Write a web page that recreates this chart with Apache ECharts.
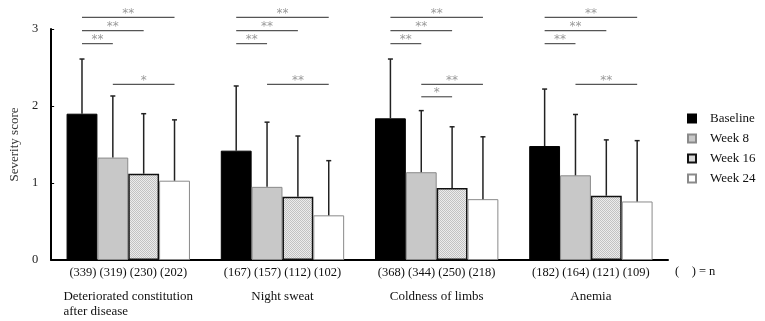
<!DOCTYPE html>
<html>
<head>
<meta charset="utf-8">
<script src="https://cdn.jsdelivr.net/npm/echarts@6/dist/echarts.min.js"></script>
<style>
  html, body { margin: 0; padding: 0; background: #ffffff; }
  #chart { width: 765px; height: 321px; }
</style>
</head>
<body>
<div id="chart"></div>
<script>
// categories and tick labels
const categories = ['Deteriorated constitution\nafter disease', 'Night sweat', 'Coldness of limbs', 'Anemia'];
const seriesNames = ['Baseline', 'Week 8', 'Week 16', 'Week 24'];
const yTicks = [0, 1, 2, 3];

// mean severity score
const baselineMean = [1.90, 1.42, 1.84, 1.48];
const week8Mean = [1.33, 0.95, 1.14, 1.10];
const week16Mean = [1.12, 0.82, 0.935, 0.835];
const week24Mean = [1.03, 0.58, 0.79, 0.76];

// top of error bar (mean + SD)
const baselineTop = [2.61, 2.26, 2.61, 2.22];
const week8Top = [2.13, 1.79, 1.94, 1.89];
const week16Top = [1.90, 1.61, 1.73, 1.56];
const week24Top = [1.82, 1.29, 1.60, 1.55];

// n per group
const baselineN = [339, 167, 368, 182];
const week8N = [319, 157, 344, 164];
const week16N = [230, 112, 250, 121];
const week24N = [202, 102, 218, 109];

// significance brackets: [category, from series, to series, level, label]
const brackets = [
  [0, 0, 3, 3.15, '**'], [0, 0, 2, 2.98, '**'], [0, 0, 1, 2.81, '**'], [0, 1, 3, 2.28, '*'],
  [1, 0, 3, 3.15, '**'], [1, 0, 2, 2.98, '**'], [1, 0, 1, 2.81, '**'], [1, 1, 3, 2.28, '**'],
  [2, 0, 3, 3.15, '**'], [2, 0, 2, 2.98, '**'], [2, 0, 1, 2.81, '**'], [2, 1, 3, 2.28, '**'], [2, 1, 2, 2.12, '*'],
  [3, 0, 3, 3.15, '**'], [3, 0, 2, 2.98, '**'], [3, 0, 1, 2.81, '**'], [3, 1, 3, 2.28, '**']
];

const means = [baselineMean, week8Mean, week16Mean, week24Mean];
const tops = [baselineTop, week8Top, week16Top, week24Top];
const counts = [baselineN, week8N, week16N, week24N];

const FONT = '"Liberation Serif", "Times New Roman", serif';
const BAR_GAP_RATIO = 0.2;

// stippled fill for week 16
const makeStipple = () => {
  const c = document.createElement('canvas');
  c.width = 2; c.height = 2;
  const ctx = c.getContext('2d');
  ctx.fillStyle = '#ececec';
  ctx.fillRect(0, 0, 2, 2);
  ctx.fillStyle = '#c2c2c2';
  ctx.fillRect(0, 0, 1, 1);
  ctx.fillRect(1, 1, 1, 1);
  return c;
};
const stipple = { image: makeStipple(), repeat: 'repeat' };

const barStyles = [
  { color: '#000000', borderColor: '#000000', borderWidth: 1 },
  { color: '#c8c8c8', borderColor: '#8a8a8a', borderWidth: 1 },
  { color: stipple, borderColor: '#111111', borderWidth: 1.5 },
  { color: '#ffffff', borderColor: '#8a8a8a', borderWidth: 1 }
];

// x centre of bar s in category cat, from the axis scale
const barCenter = (api, cat, s) => {
  const c = api.coord([cat, 0]);
  const band = api.size([1, 0])[0];
  const inner = band * (1 - BAR_GAP_RATIO);
  const w = inner / 4;
  return c[0] - inner / 2 + w * (s + 0.5);
};

const errorData = [];
means.forEach((arr, s) => arr.forEach((m, i) => errorData.push([i, s, m, tops[s][i]])));

const chart = echarts.init(document.getElementById('chart'), null, { renderer: 'canvas' });

const option = {
  animation: false,
  textStyle: { fontFamily: FONT },
  grid: { left: 48, right: 97, top: 29, bottom: 61 },
  legend: {
    data: seriesNames,
    orient: 'vertical',
    icon: 'rect',
    left: 682,
    top: 107,
    itemWidth: 8,
    itemHeight: 8,
    itemGap: 7,
    textStyle: { fontFamily: FONT, fontSize: 13, color: '#111', padding: [0, 0, 0, 9] }
  },
  xAxis: {
    type: 'category',
    data: categories,
    axisTick: { show: false },
    axisLine: { lineStyle: { color: '#000', width: 2 } },
    axisLabel: {
      interval: 0,
      margin: 5,
      formatter: (value, idx) => {
        const nRow = counts.map(a => '(' + a[idx] + ')').join(' ');
        const lines = value.split('\n');
        const st = lines.length > 1 ? 'cl' : 'c';
        return '{n|' + nRow + '}\n{s| }\n' + lines.map(l => '{' + st + '|' + l + '}').join('\n');
      },
      rich: {
        n: { fontFamily: FONT, fontSize: 12.5, color: '#111', lineHeight: 16 },
        s: { fontSize: 4, lineHeight: 8 },
        c: { fontFamily: FONT, fontSize: 13, color: '#111', lineHeight: 15, align: 'center' },
        cl: { fontFamily: FONT, fontSize: 13, color: '#111', lineHeight: 15, align: 'left' }
      }
    }
  },
  yAxis: {
    type: 'value',
    min: yTicks[0],
    max: yTicks[yTicks.length - 1],
    interval: 1,
    name: 'Severity score',
    nameLocation: 'middle',
    nameGap: 28,
    nameTextStyle: { fontFamily: FONT, fontSize: 13, color: '#333' },
    axisLine: { show: true, lineStyle: { color: '#000', width: 2 } },
    axisTick: { show: true, inside: true, length: 3, lineStyle: { color: '#000' } },
    axisLabel: { fontFamily: FONT, fontSize: 12.5, color: '#222', margin: 13 },
    splitLine: { show: false }
  },
  series: [
    ...seriesNames.map((name, s) => ({
      name: name,
      type: 'bar',
      data: means[s],
      barGap: '0%',
      barCategoryGap: (BAR_GAP_RATIO * 100) + '%',
      itemStyle: barStyles[s],
      emphasis: { disabled: true },
      z: 2
    })),
    {
      type: 'custom',
      name: 'sd',
      data: errorData,
      encode: { x: 0, y: [2, 3] },
      z: 3,
      silent: true,
      renderItem: (params, api) => {
        const cat = api.value(0), s = api.value(1);
        const x = barCenter(api, cat, s);
        const y0 = api.coord([cat, api.value(2)])[1];
        const y1 = api.coord([cat, api.value(3)])[1];
        const st = { stroke: '#222', lineWidth: 1.5 };
        return {
          type: 'group',
          children: [
            { type: 'line', shape: { x1: x, y1: y0, x2: x, y2: y1 }, style: st },
            { type: 'line', shape: { x1: x - 2.5, y1: y1, x2: x + 2.5, y2: y1 }, style: st }
          ]
        };
      }
    },
    {
      type: 'custom',
      name: 'sig',
      data: brackets,
      encode: { x: 0, y: 3 },
      clip: false,
      z: 3,
      silent: true,
      renderItem: (params, api) => {
        const cat = api.value(0);
        const xa = barCenter(api, cat, api.value(1));
        const xb = barCenter(api, cat, api.value(2));
        const y = api.coord([cat, api.value(3)])[1];
        const label = brackets[params.dataIndex][4];
        return {
          type: 'group',
          children: [
            { type: 'line', shape: { x1: xa, y1: y, x2: xb, y2: y }, style: { stroke: '#555', lineWidth: 1.2 } },
            {
              type: 'text',
              x: (xa + xb) / 2,
              y: y + 2,
              style: { text: label, fontSize: 12, fontFamily: 'DejaVu Sans, sans-serif', fill: '#9a9a9a', align: 'center', verticalAlign: 'bottom' }
            }
          ]
        };
      }
    }
  ],
  graphic: [
    {
      type: 'text',
      left: 675,
      top: 265,
      style: { text: '(    ) = n', fontFamily: FONT, fontSize: 12.5, fill: '#111' }
    }
  ]
};

chart.setOption(option);
</script>
</body>
</html>
